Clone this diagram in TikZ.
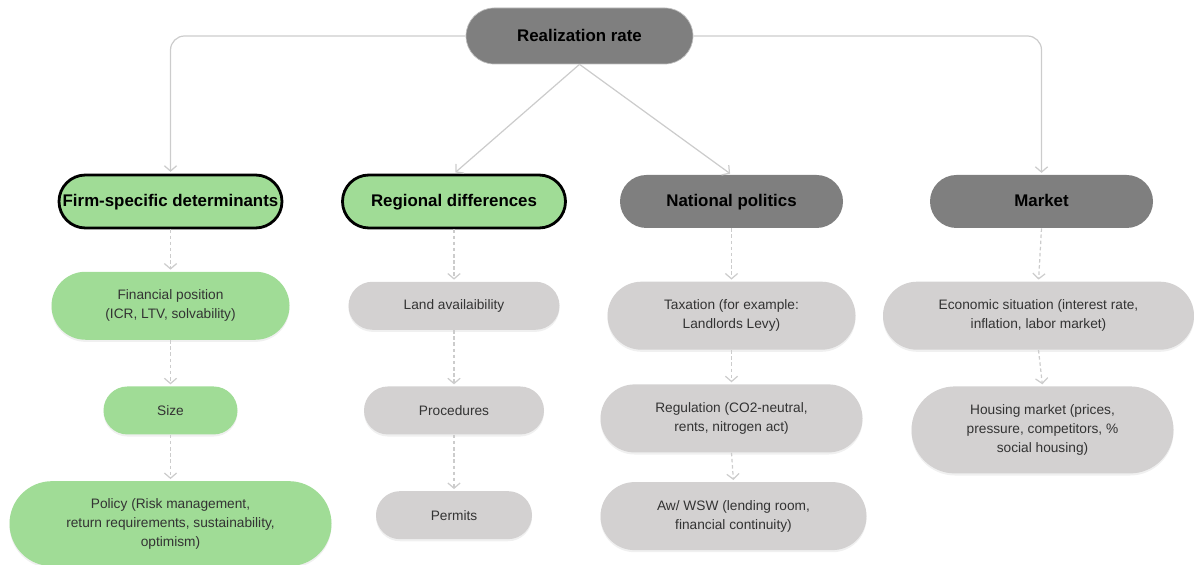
\documentclass[tikz,border=0pt]{standalone}
\usepackage{fontspec}
\setmainfont{Liberation Sans}
\usetikzlibrary{positioning,shapes.misc,arrows.meta,shadows}

\definecolor{leafgreen}{HTML}{A0DC96}
\definecolor{darkpill}{HTML}{7F7F7F}
\definecolor{lightpill}{HTML}{D3D1D1}
\definecolor{linkgray}{HTML}{CCCCCC}

\begin{document}
\begin{tikzpicture}[
        pill/.style={rounded rectangle, inner sep=0pt, align=center, text=black!80, font=\fontsize{7.8}{10.8}\selectfont},
        head/.style={rounded rectangle, inner sep=0pt, minimum width=4.46cm, minimum height=1.06cm, text height=1.55ex, text depth=0.4ex, font=\fontsize{9.6}{11}\selectfont\bfseries},
        chosen/.style={head, fill=leafgreen, draw=black, line width=1.6pt},
        other/.style={head, fill=darkpill},
        greenbox/.style={pill, fill=leafgreen, drop shadow={opacity=0.12, shadow xshift=0pt, shadow yshift=-1.2pt}},
        graybox/.style={pill, fill=lightpill, drop shadow={opacity=0.12, shadow xshift=0pt, shadow yshift=-1.2pt}},
        link/.style={draw=linkgray, line width=0.7pt, rounded corners=8pt, -{Straight Barb[length=3pt,width=7pt]}, shorten >=1pt},
        sublink/.style={link, dash pattern=on 2pt off 1.5pt}
      ]
        \useasboundingbox (0,0) rectangle (23.88,-11.3);

        % Top level
        \node[other, minimum width=4.54cm, minimum height=1.12cm, draw=black!25, line width=0.4pt] (root) at (11.59,-0.72) {Realization rate};

        % Second level
        \node[chosen] (firm) at (3.41,-4.03) {Firm-specific determinants};
        \node[chosen] (regional) at (9.08,-4.03) {Regional differences};
        \node[other] (national) at (14.63,-4.03) {National politics};
        \node[other] (market) at (20.83,-4.03) {Market};

        % Third level - under Firm-specific determinants
        \node[greenbox, minimum width=4.76cm, minimum height=1.36cm, below=0.84cm of firm] (finpos) {Financial position\\(ICR, LTV, solvability)};
        \node[greenbox, minimum width=2.68cm, minimum height=0.96cm, below=0.92cm of finpos] (size) {Size};
        \node[greenbox, minimum width=6.44cm, minimum height=1.70cm, below=0.92cm of size] (policy) {Policy (Risk management,\\return requirements, sustainability,\\optimism)};

        % Third level - under Regional differences
        \node[graybox, minimum width=4.22cm, minimum height=0.96cm, below=1.04cm of regional] (land) {Land availaibility};
        \node[graybox, minimum width=3.6cm, minimum height=0.96cm, below=1.12cm of land] (procedures) {Procedures};
        \node[graybox, minimum width=3.12cm, minimum height=0.96cm, below=1.12cm of procedures] (permits) {Permits};

        % Third level - under National politics
        \node[graybox, minimum width=4.96cm, minimum height=1.36cm, below=1.06cm of national] (taxation) {Taxation (for example:\\Landlords Levy)};
        \node[graybox, minimum width=5.24cm, minimum height=1.36cm, below=0.68cm of taxation] (regulation) {Regulation (CO2-neutral,\\rents, nitrogen act)};
        \node[graybox, minimum width=5.32cm, minimum height=1.36cm, below=0.58cm of regulation, xshift=0.04cm] (awwsw) {Aw/ WSW (lending room,\\financial continuity)};

        % Third level - under Market
        \node[graybox, minimum width=6.22cm, minimum height=1.36cm, below=1.06cm of market, xshift=-0.06cm] (economy) {Economic situation (interest rate,\\inflation, labor market)};
        \node[graybox, minimum width=5.24cm, minimum height=1.74cm, below=0.72cm of economy, xshift=0.08cm] (housing) {Housing market (prices,\\pressure, competitors, \%\\social housing)};

        % Arrows from the root
        \draw[link] (root.west) -| (firm.north);
        \draw[link] (root.east) -| (market.north);
        \draw[link] (root.south) -- (regional.north);
        \draw[link] (root.south) -- (national.north);

        % Dashed arrows down each column
        \draw[sublink] (firm.south) -- (finpos.north);
        \draw[sublink] (finpos.south) -- (size.north);
        \draw[sublink] (size.south) -- (policy.north);
        \draw[sublink] (regional.south) -- (land.north);
        \draw[sublink] (land.south) -- (procedures.north);
        \draw[sublink] (procedures.south) -- (permits.north);
        \draw[sublink] (national.south) -- (taxation.north);
        \draw[sublink] (taxation.south) -- (regulation.north);
        \draw[sublink] (regulation.south) -- (awwsw.north);
        \draw[sublink] (market.south) -- (economy.north);
        \draw[sublink] (economy.south) -- (housing.north);
      \end{tikzpicture}
\end{document}
